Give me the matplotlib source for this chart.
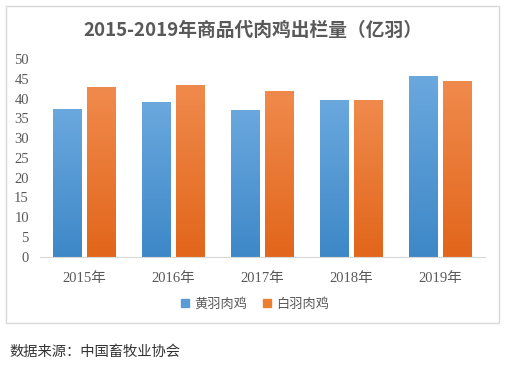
import numpy as np
import matplotlib.pyplot as plt
from matplotlib.patches import Rectangle, Patch

years = ['2015年', '2016年', '2017年', '2018年', '2019年']
yellow = [37.3, 39.2, 37.1, 39.7, 45.7]
white = [42.9, 43.4, 42.0, 39.6, 44.4]
series_names = ['黄羽肉鸡', '白羽肉鸡']

plt.rcParams['font.family'] = ['Noto Sans CJK SC', 'DejaVu Sans']

fig = plt.figure(figsize=(5.06, 3.67), dpi=100)
ax = fig.add_axes([40 / 506, 110.3 / 367, 445 / 506, 197.7 / 367])

x = np.arange(len(years))
w = 0.32
off = 0.19

def grad_bars(bars, top_col, bot_col):
    # vertical gradient inside each bar, like the Excel fill
    top = np.array(plt.matplotlib.colors.to_rgb(top_col))
    bot = np.array(plt.matplotlib.colors.to_rgb(bot_col))
    g = np.linspace(0, 1, 64)[:, None]
    img = (top[None, :] * (1 - g) + bot[None, :] * g)[:, None, :]
    for b in bars:
        x0, y0 = b.get_x(), b.get_y()
        im = ax.imshow(img, extent=[x0, x0 + b.get_width(), y0, y0 + b.get_height()],
                       aspect='auto', origin='upper', zorder=2)
        im.set_clip_path(b)

b1 = ax.bar(x - off, yellow, w, color='#5b9bd5', zorder=2)
b2 = ax.bar(x + off, white, w, color='#ed7d31', zorder=2)
grad_bars(b1, '#6aa8de', '#3e88c8')
grad_bars(b2, '#f08a4c', '#e2661b')

ax.set_xlim(-0.5, 4.5)
ax.set_ylim(0, 50)
ax.set_yticks(range(0, 51, 5))
ax.set_xticks(x)
ax.set_xticklabels(years, family=['Liberation Serif', 'Noto Sans CJK SC'], fontsize=10.5, color='#595959')
for t in ax.get_yticklabels():
    t.set_family(['Liberation Serif'])
    t.set_fontsize(10.5)
    t.set_color('#595959')
ax.tick_params(length=0, pad=8)
ax.tick_params(axis='x', pad=11)
for s in ['top', 'right', 'left']:
    ax.spines[s].set_visible(False)
ax.spines['bottom'].set_color('#d9d9d9')

fig.text(0.5, 1 - 30 / 367, '2015-2019年商品代肉鸡出栏量（亿羽）', ha='center', va='center',
         fontsize=13.5, fontweight='bold', color='#595959')

handles = [Patch(color='#5b9bd5'), Patch(color='#ed7d31')]
fig.legend(handles, series_names, loc='center', bbox_to_anchor=(0.504, 1 - 304 / 367), ncol=2,
           frameon=False, fontsize=9.5, handlelength=0.6, handleheight=0.6, handletextpad=0.4,
           columnspacing=1.2, labelcolor='#595959')

fig.patches.append(Rectangle((6 / 506, 1 - 323 / 367), 493 / 506, 317 / 367, transform=fig.transFigure,
                             fill=False, edgecolor='#d9d9d9', linewidth=1))

fig.text(9 / 506, 1 - 352 / 367, '数据来源：中国畜牧业协会', ha='left', va='center', fontsize=10.3, color='#333333')

fig.savefig('out.png', dpi=100)
